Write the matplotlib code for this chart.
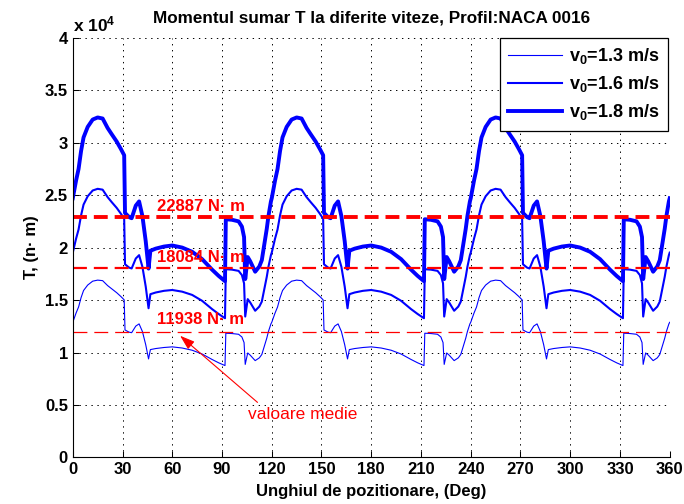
import matplotlib
matplotlib.use("Agg")
import matplotlib.pyplot as plt

plt.rcParams['font.family'] = ['Liberation Sans', 'DejaVu Sans']
plt.rcParams['font.weight'] = 'bold'
plt.rcParams['font.size'] = 12
plt.rcParams['mathtext.fontset'] = 'custom'
plt.rcParams['mathtext.rm'] = 'Liberation Sans:bold'
plt.rcParams['mathtext.it'] = 'Liberation Sans:bold'
plt.rcParams['mathtext.bf'] = 'Liberation Sans:bold'
plt.rcParams['lines.scale_dashes'] = False

# unghiul de pozitionare (grade)
unghi = [
    0, 2, 3.5, 5, 6.5, 9, 12, 15, 18, 21, 23.5, 26.5, 29, 31, 31.5, 34, 35.5, 38, 40, 42, 44, 45.7, 46.8,
    50, 55, 60, 66, 72, 78, 84, 88, 91.8, 92.3, 96, 100, 102, 103.3, 104, 105.5, 107, 110, 112.5, 114,
    115.5, 117, 118, 119.5,
    120, 122, 123.5, 125, 126.5, 129, 132, 135, 138, 141, 143.5, 146.5, 149, 151, 151.5, 154, 155.5, 158,
    160, 162, 164, 165.7, 166.8, 170, 175, 180, 186, 192, 198, 204, 208, 211.8, 212.3, 216, 220, 222,
    223.3, 224, 225.5, 227, 230, 232.5, 234, 235.5, 237, 238, 239.5,
    240, 242, 243.5, 245, 246.5, 249, 252, 255, 258, 261, 263.5, 266.5, 269, 271, 271.5, 274, 275.5, 278,
    280, 282, 284, 285.7, 286.8, 290, 295, 300, 306, 312, 318, 324, 328, 331.8, 332.3, 336, 340, 342,
    343.3, 344, 345.5, 347, 350, 352.5, 354, 355.5, 357, 358, 359.5, 360,
]

# momentul sumar T, in unitati de 1e4 N*m
T_13 = [
    1.288, 1.377, 1.434, 1.523, 1.591, 1.643, 1.680, 1.690, 1.685, 1.638, 1.607, 1.570, 1.534, 1.502, 1.215,
    1.194, 1.189, 1.252, 1.273, 1.200, 1.074, 0.939, 1.028, 1.038, 1.048, 1.054, 1.043, 1.022, 0.986, 0.934,
    0.902, 0.876, 1.184, 1.181, 1.174, 1.148, 1.095, 0.887, 0.996, 0.975, 0.923, 0.949, 0.981, 1.059, 1.137,
    1.200, 1.273,
    1.288, 1.377, 1.434, 1.523, 1.591, 1.643, 1.680, 1.690, 1.685, 1.638, 1.607, 1.570, 1.534, 1.502, 1.215,
    1.194, 1.189, 1.252, 1.273, 1.200, 1.074, 0.939, 1.028, 1.038, 1.048, 1.054, 1.043, 1.022, 0.986, 0.934,
    0.902, 0.876, 1.184, 1.181, 1.174, 1.148, 1.095, 0.887, 0.996, 0.975, 0.923, 0.949, 0.981, 1.059, 1.137,
    1.200, 1.273,
    1.288, 1.377, 1.434, 1.523, 1.591, 1.643, 1.680, 1.690, 1.685, 1.638, 1.607, 1.570, 1.534, 1.502, 1.215,
    1.194, 1.189, 1.252, 1.273, 1.200, 1.074, 0.939, 1.028, 1.038, 1.048, 1.054, 1.043, 1.022, 0.986, 0.934,
    0.902, 0.876, 1.184, 1.181, 1.174, 1.148, 1.095, 0.887, 0.996, 0.975, 0.923, 0.949, 0.981, 1.059, 1.137,
    1.200, 1.273, 1.288,
]

T_16 = [
    1.952, 2.086, 2.173, 2.307, 2.410, 2.489, 2.544, 2.560, 2.552, 2.481, 2.433, 2.378, 2.323, 2.275, 1.841,
    1.809, 1.801, 1.896, 1.928, 1.817, 1.628, 1.422, 1.556, 1.572, 1.588, 1.596, 1.580, 1.549, 1.493, 1.414,
    1.367, 1.327, 1.794, 1.790, 1.778, 1.738, 1.659, 1.343, 1.509, 1.477, 1.398, 1.438, 1.485, 1.604, 1.722,
    1.817, 1.928,
    1.952, 2.086, 2.173, 2.307, 2.410, 2.489, 2.544, 2.560, 2.552, 2.481, 2.433, 2.378, 2.323, 2.275, 1.841,
    1.809, 1.801, 1.896, 1.928, 1.817, 1.628, 1.422, 1.556, 1.572, 1.588, 1.596, 1.580, 1.549, 1.493, 1.414,
    1.367, 1.327, 1.794, 1.790, 1.778, 1.738, 1.659, 1.343, 1.509, 1.477, 1.398, 1.438, 1.485, 1.604, 1.722,
    1.817, 1.928,
    1.952, 2.086, 2.173, 2.307, 2.410, 2.489, 2.544, 2.560, 2.552, 2.481, 2.433, 2.378, 2.323, 2.275, 1.841,
    1.809, 1.801, 1.896, 1.928, 1.817, 1.628, 1.422, 1.556, 1.572, 1.588, 1.596, 1.580, 1.549, 1.493, 1.414,
    1.367, 1.327, 1.794, 1.790, 1.778, 1.738, 1.659, 1.343, 1.509, 1.477, 1.398, 1.438, 1.485, 1.604, 1.722,
    1.817, 1.928, 1.952,
]

T_18 = [
    2.47, 2.64, 2.75, 2.92, 3.05, 3.15, 3.22, 3.24, 3.23, 3.14, 3.08, 3.01, 2.94, 2.88, 2.33, 2.29, 2.28,
    2.40, 2.44, 2.30, 2.06, 1.80, 1.97, 1.99, 2.01, 2.02, 2.00, 1.96, 1.89, 1.79, 1.73, 1.68, 2.27, 2.265,
    2.25, 2.20, 2.10, 1.70, 1.91, 1.87, 1.77, 1.82, 1.88, 2.03, 2.18, 2.30, 2.44,
    2.47, 2.64, 2.75, 2.92, 3.05, 3.15, 3.22, 3.24, 3.23, 3.14, 3.08, 3.01, 2.94, 2.88, 2.33, 2.29, 2.28,
    2.40, 2.44, 2.30, 2.06, 1.80, 1.97, 1.99, 2.01, 2.02, 2.00, 1.96, 1.89, 1.79, 1.73, 1.68, 2.27, 2.265,
    2.25, 2.20, 2.10, 1.70, 1.91, 1.87, 1.77, 1.82, 1.88, 2.03, 2.18, 2.30, 2.44,
    2.47, 2.64, 2.75, 2.92, 3.05, 3.15, 3.22, 3.24, 3.23, 3.14, 3.08, 3.01, 2.94, 2.88, 2.33, 2.29, 2.28,
    2.40, 2.44, 2.30, 2.06, 1.80, 1.97, 1.99, 2.01, 2.02, 2.00, 1.96, 1.89, 1.79, 1.73, 1.68, 2.27, 2.265,
    2.25, 2.20, 2.10, 1.70, 1.91, 1.87, 1.77, 1.82, 1.88, 2.03, 2.18, 2.30, 2.44, 2.47,
]

# valori medii (N*m)
medii = [11938, 18084, 22887]
etichete = [r'$v_0$=1.3 m/s', r'$v_0$=1.6 m/s', r'$v_0$=1.8 m/s']
x_ticks = list(range(0, 361, 30))
y_ticks = [0, 0.5, 1, 1.5, 2, 2.5, 3, 3.5, 4]
y_tick_labels = ['0', '0.5', '1', '1.5', '2', '2.5', '3', '3.5', '4']

fig = plt.figure(figsize=(6.84, 5.04), dpi=100)
ax = fig.add_axes([0.1064, 0.0923, 0.8727, 0.8329])

ax.plot(unghi, T_13, color='blue', lw=0.8, label=etichete[0])
ax.plot(unghi, T_16, color='blue', lw=1.5, label=etichete[1])
ax.plot(unghi, T_18, color='blue', lw=2.8, label=etichete[2])

for m, lw in zip(medii, [0.9, 1.6, 2.8]):
    ax.axhline(m / 1e4, color='red', lw=lw, dashes=(10, 5))

ax.text(50.8, 2.395, '22887 N· m', color='red', fontsize=12, fontweight='bold', va='center', ha='left')
ax.text(50.8, 1.904, '18084 N· m', color='red', fontsize=12, fontweight='bold', va='center', ha='left')
ax.text(50.8, 1.317, '11938 N· m', color='red', fontsize=12, fontweight='bold', va='center', ha='left')

ax.annotate('', xy=(64.7, 1.16), xytext=(111.4, 0.525),
            arrowprops=dict(arrowstyle='-|>,head_length=0.9,head_width=0.3', mutation_scale=10,
                            color='red', lw=0.8, shrinkA=0, shrinkB=0))
ax.text(138.5, 0.414, 'valoare medie', color='red', fontsize=12.5, fontweight='normal', ha='center', va='center')

ax.set_xlim(0, 360)
ax.set_ylim(0, 4)
ax.set_xticks(x_ticks)
ax.set_yticks(y_ticks)
ax.set_yticklabels(y_tick_labels)
ax.tick_params(direction='in', length=4, width=0.75, labelsize=12)
ax.grid(True, color='black', lw=0.7, linestyle=(0, (1, 3.3)))
for s in ['top', 'right']:
    ax.spines[s].set_visible(False)
for s in ['left', 'bottom']:
    ax.spines[s].set_linewidth(0.8)

ax.set_title('Momentul sumar T la diferite viteze, Profil:NACA 0016', fontsize=12.3, fontweight='bold', pad=11)
ax.set_xlabel('Unghiul de pozitionare, (Deg)', fontsize=12, fontweight='bold', labelpad=5)
ax.set_ylabel('T, (n· m)', fontsize=12, fontweight='bold', labelpad=4)
ax.text(0, 1.008, r'x 10$^4$', transform=ax.transAxes, fontsize=12.5, ha='left', va='bottom')

leg = ax.legend(loc='upper right', bbox_to_anchor=(0.997, 0.999), borderaxespad=0, fancybox=False,
                framealpha=1, edgecolor='black', fontsize=13, handlelength=3.0, handletextpad=0.4,
                labelspacing=0.45, borderpad=0.45)
leg.get_frame().set_linewidth(0.9)

fig.savefig('out.png', dpi=100)
